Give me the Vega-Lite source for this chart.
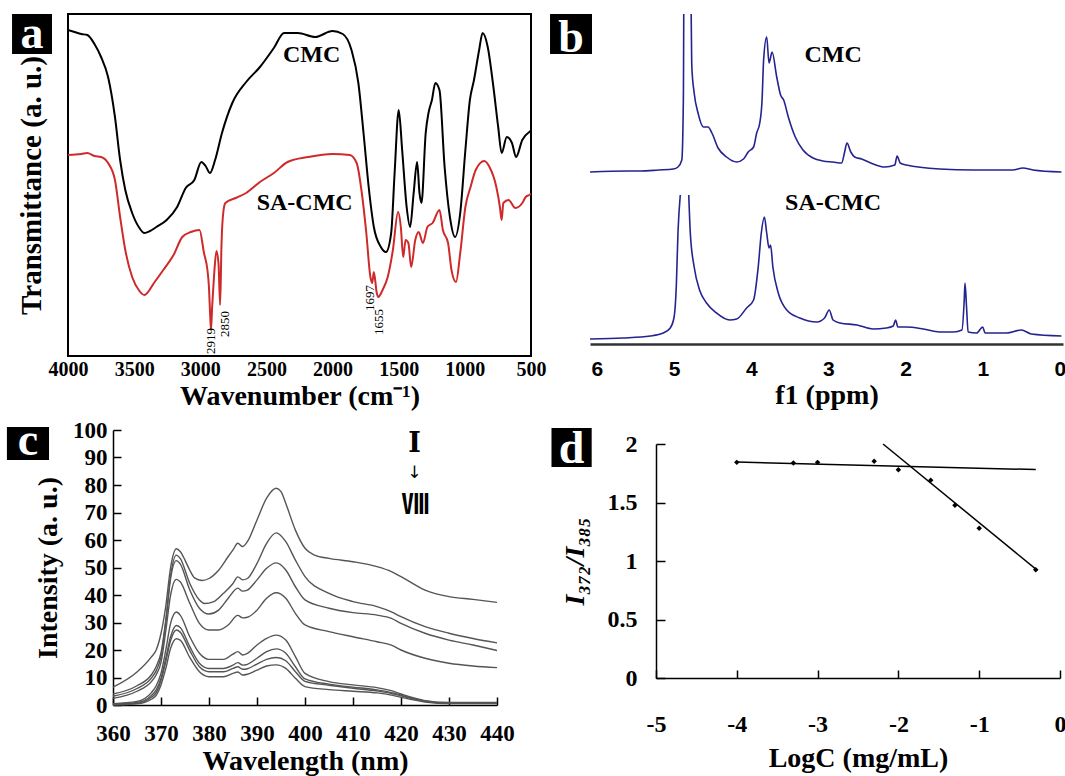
{
  "$schema": "https://vega.github.io/schema/vega-lite/v6.json",
  "autosize": {"type": "none"},
  "padding": {"left": 68, "top": 14, "right": 997, "bottom": 762},
  "background": "white",
  "bounds": "flush",
  "spacing": 416,
  "config": {
    "view": {"stroke": null},
    "axis": {"labelFont": "Liberation Serif", "titleFont": "Liberation Serif", "labelColor": "#000", "titleColor": "#000", "labelFontWeight": "bold", "titleFontWeight": "bold", "grid": false, "labelFlush": false, "labelOverlap": false, "labelBound": false, "domainColor": "#000", "tickColor": "#000"},
    "text": {"font": "Liberation Serif", "color": "#000"}
  },
  "datasets": {
    "ftir": [
      {"s":"CMC","w":4000,"t":326},{"s":"CMC","w":3950,"t":324},{"s":"CMC","w":3900,"t":322},{"s":"CMC","w":3854,"t":321},{"s":"CMC","w":3800,"t":312},{"s":"CMC","w":3750,"t":299},{"s":"CMC","w":3697,"t":279},{"s":"CMC","w":3645,"t":239},{"s":"CMC","w":3606,"t":196},{"s":"CMC","w":3567,"t":166},{"s":"CMC","w":3515,"t":143},{"s":"CMC","w":3460,"t":128},{"s":"CMC","w":3423,"t":123},{"s":"CMC","w":3380,"t":125},{"s":"CMC","w":3332,"t":129},{"s":"CMC","w":3254,"t":136},{"s":"CMC","w":3175,"t":149},{"s":"CMC","w":3110,"t":168},{"s":"CMC","w":3045,"t":176},{"s":"CMC","w":2992,"t":194},{"s":"CMC","w":2960,"t":190},{"s":"CMC","w":2927,"t":183},{"s":"CMC","w":2888,"t":196},{"s":"CMC","w":2836,"t":223},{"s":"CMC","w":2758,"t":253},{"s":"CMC","w":2653,"t":274},{"s":"CMC","w":2549,"t":289},{"s":"CMC","w":2444,"t":308},{"s":"CMC","w":2366,"t":323},{"s":"CMC","w":2262,"t":323},{"s":"CMC","w":2131,"t":319},{"s":"CMC","w":2001,"t":325},{"s":"CMC","w":1923,"t":322},{"s":"CMC","w":1857,"t":306},{"s":"CMC","w":1805,"t":273},{"s":"CMC","w":1766,"t":223},{"s":"CMC","w":1727,"t":169},{"s":"CMC","w":1688,"t":129},{"s":"CMC","w":1635,"t":109},{"s":"CMC","w":1596,"t":104},{"s":"CMC","w":1557,"t":123},{"s":"CMC","w":1531,"t":183},{"s":"CMC","w":1500,"t":246},{"s":"CMC","w":1474,"t":206},{"s":"CMC","w":1440,"t":149},{"s":"CMC","w":1414,"t":129},{"s":"CMC","w":1387,"t":163},{"s":"CMC","w":1361,"t":194},{"s":"CMC","w":1343,"t":163},{"s":"CMC","w":1328,"t":153},{"s":"CMC","w":1296,"t":223},{"s":"CMC","w":1275,"t":243},{"s":"CMC","w":1249,"t":256},{"s":"CMC","w":1223,"t":273},{"s":"CMC","w":1192,"t":266},{"s":"CMC","w":1153,"t":189},{"s":"CMC","w":1113,"t":139},{"s":"CMC","w":1074,"t":119},{"s":"CMC","w":1035,"t":143},{"s":"CMC","w":996,"t":206},{"s":"CMC","w":962,"t":256},{"s":"CMC","w":931,"t":276},{"s":"CMC","w":892,"t":306},{"s":"CMC","w":866,"t":323},{"s":"CMC","w":827,"t":309},{"s":"CMC","w":788,"t":273},{"s":"CMC","w":748,"t":229},{"s":"CMC","w":722,"t":203},{"s":"CMC","w":683,"t":219},{"s":"CMC","w":644,"t":213},{"s":"CMC","w":613,"t":199},{"s":"CMC","w":566,"t":216},{"s":"CMC","w":513,"t":224},{"s":"CMC","w":500,"t":225},
      {"s":"SA-CMC","w":4000,"t":201},{"s":"SA-CMC","w":3900,"t":202},{"s":"SA-CMC","w":3854,"t":203},{"s":"SA-CMC","w":3800,"t":200},{"s":"SA-CMC","w":3750,"t":199},{"s":"SA-CMC","w":3697,"t":193},{"s":"SA-CMC","w":3645,"t":176},{"s":"SA-CMC","w":3606,"t":139},{"s":"SA-CMC","w":3567,"t":106},{"s":"SA-CMC","w":3515,"t":79},{"s":"SA-CMC","w":3460,"t":65},{"s":"SA-CMC","w":3423,"t":61},{"s":"SA-CMC","w":3345,"t":74},{"s":"SA-CMC","w":3280,"t":86},{"s":"SA-CMC","w":3202,"t":101},{"s":"SA-CMC","w":3136,"t":119},{"s":"SA-CMC","w":3071,"t":124},{"s":"SA-CMC","w":3006,"t":126},{"s":"SA-CMC","w":2972,"t":103},{"s":"SA-CMC","w":2946,"t":86},{"s":"SA-CMC","w":2935,"t":70},{"s":"SA-CMC","w":2925,"t":40},{"s":"SA-CMC","w":2919,"t":26},{"s":"SA-CMC","w":2910,"t":50},{"s":"SA-CMC","w":2896,"t":80},{"s":"SA-CMC","w":2878,"t":105},{"s":"SA-CMC","w":2862,"t":92},{"s":"SA-CMC","w":2850,"t":51},{"s":"SA-CMC","w":2840,"t":110},{"s":"SA-CMC","w":2825,"t":145},{"s":"SA-CMC","w":2810,"t":153},{"s":"SA-CMC","w":2732,"t":158},{"s":"SA-CMC","w":2653,"t":163},{"s":"SA-CMC","w":2549,"t":174},{"s":"SA-CMC","w":2444,"t":183},{"s":"SA-CMC","w":2340,"t":194},{"s":"SA-CMC","w":2183,"t":199},{"s":"SA-CMC","w":2001,"t":202},{"s":"SA-CMC","w":1870,"t":201},{"s":"SA-CMC","w":1818,"t":193},{"s":"SA-CMC","w":1779,"t":163},{"s":"SA-CMC","w":1745,"t":123},{"s":"SA-CMC","w":1714,"t":79},{"s":"SA-CMC","w":1700,"t":73},{"s":"SA-CMC","w":1688,"t":84},{"s":"SA-CMC","w":1666,"t":63},{"s":"SA-CMC","w":1655,"t":59},{"s":"SA-CMC","w":1622,"t":66},{"s":"SA-CMC","w":1583,"t":79},{"s":"SA-CMC","w":1544,"t":106},{"s":"SA-CMC","w":1505,"t":144},{"s":"SA-CMC","w":1484,"t":129},{"s":"SA-CMC","w":1466,"t":99},{"s":"SA-CMC","w":1448,"t":116},{"s":"SA-CMC","w":1427,"t":113},{"s":"SA-CMC","w":1406,"t":89},{"s":"SA-CMC","w":1375,"t":116},{"s":"SA-CMC","w":1349,"t":124},{"s":"SA-CMC","w":1317,"t":113},{"s":"SA-CMC","w":1283,"t":129},{"s":"SA-CMC","w":1244,"t":133},{"s":"SA-CMC","w":1192,"t":146},{"s":"SA-CMC","w":1166,"t":126},{"s":"SA-CMC","w":1127,"t":113},{"s":"SA-CMC","w":1101,"t":86},{"s":"SA-CMC","w":1067,"t":74},{"s":"SA-CMC","w":1035,"t":103},{"s":"SA-CMC","w":996,"t":149},{"s":"SA-CMC","w":957,"t":169},{"s":"SA-CMC","w":918,"t":186},{"s":"SA-CMC","w":853,"t":195},{"s":"SA-CMC","w":814,"t":189},{"s":"SA-CMC","w":762,"t":169},{"s":"SA-CMC","w":735,"t":149},{"s":"SA-CMC","w":722,"t":136},{"s":"SA-CMC","w":709,"t":153},{"s":"SA-CMC","w":670,"t":156},{"s":"SA-CMC","w":618,"t":148},{"s":"SA-CMC","w":566,"t":153},{"s":"SA-CMC","w":540,"t":159},{"s":"SA-CMC","w":513,"t":161},{"s":"SA-CMC","w":500,"t":162}
    ],
    "nmr": [
      {"seg":"CMC","ppm":6.09,"v":172},{"seg":"CMC","ppm":5.6,"v":173},{"seg":"CMC","ppm":5.44,"v":173},{"seg":"CMC","ppm":5.2,"v":174},{"seg":"CMC","ppm":5.01,"v":175},{"seg":"CMC","ppm":4.95,"v":177},{"seg":"CMC","ppm":4.9,"v":184},{"seg":"CMC","ppm":4.88,"v":244},{"seg":"CMC","ppm":4.87,"v":400},{"seg":"CMC","ppm":4.79,"v":400},{"seg":"CMC","ppm":4.77,"v":277},{"seg":"CMC","ppm":4.74,"v":251},{"seg":"CMC","ppm":4.69,"v":231},{"seg":"CMC","ppm":4.62,"v":217},{"seg":"CMC","ppm":4.56,"v":217},{"seg":"CMC","ppm":4.51,"v":211},{"seg":"CMC","ppm":4.43,"v":196},{"seg":"CMC","ppm":4.32,"v":187},{"seg":"CMC","ppm":4.19,"v":182},{"seg":"CMC","ppm":4.1,"v":185},{"seg":"CMC","ppm":4.04,"v":192},{"seg":"CMC","ppm":3.97,"v":197},{"seg":"CMC","ppm":3.93,"v":211},{"seg":"CMC","ppm":3.89,"v":221},{"seg":"CMC","ppm":3.86,"v":244},{"seg":"CMC","ppm":3.84,"v":284},{"seg":"CMC","ppm":3.8,"v":307},{"seg":"CMC","ppm":3.77,"v":281},{"seg":"CMC","ppm":3.73,"v":292},{"seg":"CMC","ppm":3.67,"v":267},{"seg":"CMC","ppm":3.62,"v":249},{"seg":"CMC","ppm":3.58,"v":244},{"seg":"CMC","ppm":3.52,"v":227},{"seg":"CMC","ppm":3.43,"v":207},{"seg":"CMC","ppm":3.33,"v":194},{"seg":"CMC","ppm":3.2,"v":186},{"seg":"CMC","ppm":3.07,"v":183},{"seg":"CMC","ppm":2.94,"v":182},{"seg":"CMC","ppm":2.83,"v":181},{"seg":"CMC","ppm":2.79,"v":192},{"seg":"CMC","ppm":2.76,"v":201},{"seg":"CMC","ppm":2.71,"v":192},{"seg":"CMC","ppm":2.66,"v":187},{"seg":"CMC","ppm":2.57,"v":185},{"seg":"CMC","ppm":2.42,"v":180},{"seg":"CMC","ppm":2.27,"v":177},{"seg":"CMC","ppm":2.14,"v":179},{"seg":"CMC","ppm":2.11,"v":188},{"seg":"CMC","ppm":2.07,"v":181},{"seg":"CMC","ppm":1.99,"v":179},{"seg":"CMC","ppm":1.56,"v":175},{"seg":"CMC","ppm":1.12,"v":174},{"seg":"CMC","ppm":0.61,"v":174},{"seg":"CMC","ppm":0.48,"v":176},{"seg":"CMC","ppm":0.35,"v":174},{"seg":"CMC","ppm":-0.02,"v":172},
      {"seg":"SA1","ppm":6.09,"v":5},{"seg":"SA1","ppm":5.66,"v":6},{"seg":"SA1","ppm":5.31,"v":8},{"seg":"SA1","ppm":5.14,"v":11},{"seg":"SA1","ppm":5.05,"v":16},{"seg":"SA1","ppm":5.0,"v":27},{"seg":"SA1","ppm":4.97,"v":61},{"seg":"SA1","ppm":4.95,"v":111},{"seg":"SA1","ppm":4.92,"v":149},
      {"seg":"SA2","ppm":4.81,"v":149},{"seg":"SA2","ppm":4.79,"v":111},{"seg":"SA2","ppm":4.74,"v":77},{"seg":"SA2","ppm":4.67,"v":54},{"seg":"SA2","ppm":4.58,"v":41},{"seg":"SA2","ppm":4.45,"v":31},{"seg":"SA2","ppm":4.28,"v":24},{"seg":"SA2","ppm":4.19,"v":25},{"seg":"SA2","ppm":4.06,"v":36},{"seg":"SA2","ppm":3.97,"v":44},{"seg":"SA2","ppm":3.91,"v":77},{"seg":"SA2","ppm":3.87,"v":111},{"seg":"SA2","ppm":3.83,"v":127},{"seg":"SA2","ppm":3.8,"v":111},{"seg":"SA2","ppm":3.77,"v":96},{"seg":"SA2","ppm":3.75,"v":99},{"seg":"SA2","ppm":3.72,"v":77},{"seg":"SA2","ppm":3.65,"v":51},{"seg":"SA2","ppm":3.54,"v":34},{"seg":"SA2","ppm":3.37,"v":26},{"seg":"SA2","ppm":3.15,"v":22},{"seg":"SA2","ppm":3.05,"v":26},{"seg":"SA2","ppm":2.99,"v":34},{"seg":"SA2","ppm":2.94,"v":24},{"seg":"SA2","ppm":2.85,"v":21},{"seg":"SA2","ppm":2.63,"v":19},{"seg":"SA2","ppm":2.42,"v":15},{"seg":"SA2","ppm":2.25,"v":16},{"seg":"SA2","ppm":2.16,"v":18},{"seg":"SA2","ppm":2.13,"v":24},{"seg":"SA2","ppm":2.1,"v":17},{"seg":"SA2","ppm":1.99,"v":17},{"seg":"SA2","ppm":1.77,"v":15},{"seg":"SA2","ppm":1.56,"v":12},{"seg":"SA2","ppm":1.38,"v":12},{"seg":"SA2","ppm":1.27,"v":14},{"seg":"SA2","ppm":1.24,"v":44},{"seg":"SA2","ppm":1.23,"v":61},{"seg":"SA2","ppm":1.21,"v":37},{"seg":"SA2","ppm":1.19,"v":12},{"seg":"SA2","ppm":1.08,"v":11},{"seg":"SA2","ppm":1.0,"v":17},{"seg":"SA2","ppm":0.97,"v":11},{"seg":"SA2","ppm":0.69,"v":11},{"seg":"SA2","ppm":0.5,"v":14},{"seg":"SA2","ppm":0.37,"v":10},{"seg":"SA2","ppm":-0.02,"v":8}
    ],
    "fl": [
      {"s":"I","x":360,"y":6.5},{"s":"I","x":365,"y":12},{"s":"I","x":368,"y":17.5},{"s":"I","x":369,"y":20},{"s":"I","x":370,"y":26},{"s":"I","x":371,"y":36},{"s":"I","x":372,"y":50},{"s":"I","x":373.2,"y":56.8},{"s":"I","x":374,"y":55.8},{"s":"I","x":375,"y":52.7},{"s":"I","x":376,"y":49},{"s":"I","x":377,"y":46.2},{"s":"I","x":378.5,"y":45.3},{"s":"I","x":380,"y":46},{"s":"I","x":382,"y":49},{"s":"I","x":384,"y":54},{"s":"I","x":385,"y":56.4},{"s":"I","x":386,"y":58.8},{"s":"I","x":387,"y":57.6},{"s":"I","x":388,"y":59.4},{"s":"I","x":390,"y":67.3},{"s":"I","x":392,"y":75.2},{"s":"I","x":394,"y":78.8},{"s":"I","x":395,"y":77.6},{"s":"I","x":396,"y":73.3},{"s":"I","x":398,"y":63.6},{"s":"I","x":400,"y":57},{"s":"I","x":402,"y":54.5},{"s":"I","x":405,"y":53.3},{"s":"I","x":410,"y":52.1},{"s":"I","x":415,"y":50.3},{"s":"I","x":418,"y":48.5},{"s":"I","x":420,"y":46.7},{"s":"I","x":425,"y":41.8},{"s":"I","x":430,"y":39.4},{"s":"I","x":435,"y":38.4},{"s":"I","x":440,"y":37.3},
      {"s":"II","x":360,"y":4},{"s":"II","x":365,"y":7},{"s":"II","x":368,"y":11},{"s":"II","x":369,"y":14},{"s":"II","x":370,"y":19},{"s":"II","x":371,"y":31},{"s":"II","x":372,"y":47},{"s":"II","x":373.2,"y":54.5},{"s":"II","x":374,"y":53.3},{"s":"II","x":376,"y":44.2},{"s":"II","x":378,"y":38.2},{"s":"II","x":379,"y":36.9},{"s":"II","x":381,"y":37.6},{"s":"II","x":383,"y":40.6},{"s":"II","x":385,"y":44.2},{"s":"II","x":386,"y":46.6},{"s":"II","x":387,"y":45.5},{"s":"II","x":388,"y":46},{"s":"II","x":390,"y":51.5},{"s":"II","x":392,"y":58.8},{"s":"II","x":394,"y":62.6},{"s":"II","x":396,"y":59.4},{"s":"II","x":398,"y":52.7},{"s":"II","x":400,"y":46.7},{"s":"II","x":405,"y":40.6},{"s":"II","x":410,"y":37.6},{"s":"II","x":415,"y":35.8},{"s":"II","x":418,"y":33.9},{"s":"II","x":420,"y":32.1},{"s":"II","x":425,"y":28.5},{"s":"II","x":430,"y":26.1},{"s":"II","x":435,"y":24.2},{"s":"II","x":440,"y":22.6},
      {"s":"III","x":360,"y":3.2},{"s":"III","x":365,"y":6},{"s":"III","x":368,"y":9.8},{"s":"III","x":369,"y":12.5},{"s":"III","x":370,"y":17.5},{"s":"III","x":371,"y":30},{"s":"III","x":372,"y":46},{"s":"III","x":373.2,"y":52.5},{"s":"III","x":374,"y":51.3},{"s":"III","x":376,"y":41.8},{"s":"III","x":378,"y":35.2},{"s":"III","x":380,"y":33.1},{"s":"III","x":382,"y":34.5},{"s":"III","x":384,"y":38.8},{"s":"III","x":386,"y":42.5},{"s":"III","x":387,"y":41.4},{"s":"III","x":388,"y":41.8},{"s":"III","x":390,"y":45.5},{"s":"III","x":392,"y":49.7},{"s":"III","x":394,"y":51.7},{"s":"III","x":396,"y":49.1},{"s":"III","x":398,"y":43},{"s":"III","x":400,"y":38.2},{"s":"III","x":405,"y":35.2},{"s":"III","x":410,"y":33.6},{"s":"III","x":415,"y":32.7},{"s":"III","x":418,"y":31.5},{"s":"III","x":420,"y":29.7},{"s":"III","x":425,"y":26.1},{"s":"III","x":430,"y":23.6},{"s":"III","x":435,"y":21.8},{"s":"III","x":440,"y":19.8},
      {"s":"IV","x":360,"y":2.4},{"s":"IV","x":365,"y":5},{"s":"IV","x":368,"y":8.5},{"s":"IV","x":369,"y":11},{"s":"IV","x":370,"y":15.5},{"s":"IV","x":371,"y":27},{"s":"IV","x":372,"y":40},{"s":"IV","x":373.2,"y":45.7},{"s":"IV","x":374,"y":44.8},{"s":"IV","x":376,"y":37},{"s":"IV","x":378,"y":29.7},{"s":"IV","x":380,"y":27.3},{"s":"IV","x":382,"y":27.3},{"s":"IV","x":384,"y":29.1},{"s":"IV","x":386,"y":32.6},{"s":"IV","x":387,"y":31.7},{"s":"IV","x":388,"y":31.9},{"s":"IV","x":390,"y":34.5},{"s":"IV","x":392,"y":38.8},{"s":"IV","x":394,"y":40.8},{"s":"IV","x":396,"y":38.8},{"s":"IV","x":398,"y":33.3},{"s":"IV","x":400,"y":29.1},{"s":"IV","x":405,"y":26.7},{"s":"IV","x":410,"y":24.8},{"s":"IV","x":415,"y":23},{"s":"IV","x":418,"y":21.8},{"s":"IV","x":420,"y":20},{"s":"IV","x":425,"y":17},{"s":"IV","x":430,"y":15.2},{"s":"IV","x":435,"y":14.2},{"s":"IV","x":440,"y":13.6},
      {"s":"V","x":360,"y":0.5},{"s":"V","x":365,"y":1.3},{"s":"V","x":368,"y":4.5},{"s":"V","x":369,"y":7},{"s":"V","x":370,"y":11.5},{"s":"V","x":371,"y":20},{"s":"V","x":372,"y":29.7},{"s":"V","x":373.2,"y":33.8},{"s":"V","x":374,"y":32.7},{"s":"V","x":376,"y":24.8},{"s":"V","x":378,"y":18.8},{"s":"V","x":380,"y":16.6},{"s":"V","x":383,"y":16.6},{"s":"V","x":385,"y":18.5},{"s":"V","x":386,"y":19.4},{"s":"V","x":387,"y":18.2},{"s":"V","x":388,"y":18.8},{"s":"V","x":390,"y":21.8},{"s":"V","x":392,"y":24.2},{"s":"V","x":394,"y":25.4},{"s":"V","x":396,"y":23.6},{"s":"V","x":398,"y":17.6},{"s":"V","x":400,"y":11.5},{"s":"V","x":405,"y":8.5},{"s":"V","x":410,"y":7.3},{"s":"V","x":415,"y":6.3},{"s":"V","x":418,"y":5.2},{"s":"V","x":420,"y":4},{"s":"V","x":425,"y":1.6},{"s":"V","x":430,"y":0.9},{"s":"V","x":440,"y":0.9},
      {"s":"VI","x":360,"y":0.3},{"s":"VI","x":365,"y":0.9},{"s":"VI","x":368,"y":3.5},{"s":"VI","x":369,"y":5.5},{"s":"VI","x":370,"y":9.7},{"s":"VI","x":371,"y":17},{"s":"VI","x":372,"y":24.8},{"s":"VI","x":373.2,"y":28.9},{"s":"VI","x":374,"y":28.2},{"s":"VI","x":376,"y":21.2},{"s":"VI","x":378,"y":15.2},{"s":"VI","x":380,"y":13.3},{"s":"VI","x":383,"y":13.3},{"s":"VI","x":385,"y":14.5},{"s":"VI","x":386,"y":15.4},{"s":"VI","x":387,"y":14.5},{"s":"VI","x":388,"y":14.8},{"s":"VI","x":390,"y":17},{"s":"VI","x":392,"y":19.4},{"s":"VI","x":394,"y":20.4},{"s":"VI","x":396,"y":18.8},{"s":"VI","x":398,"y":13.9},{"s":"VI","x":400,"y":9.5},{"s":"VI","x":405,"y":7.6},{"s":"VI","x":410,"y":6.5},{"s":"VI","x":415,"y":5.5},{"s":"VI","x":418,"y":4.5},{"s":"VI","x":420,"y":3.6},{"s":"VI","x":425,"y":1.5},{"s":"VI","x":430,"y":0.8},{"s":"VI","x":440,"y":0.8},
      {"s":"VII","x":360,"y":0.15},{"s":"VII","x":365,"y":0.6},{"s":"VII","x":368,"y":2.8},{"s":"VII","x":369,"y":4.5},{"s":"VII","x":370,"y":8.8},{"s":"VII","x":371,"y":15.8},{"s":"VII","x":372,"y":23.4},{"s":"VII","x":373.2,"y":27.3},{"s":"VII","x":374,"y":26.5},{"s":"VII","x":376,"y":19.8},{"s":"VII","x":378,"y":13.9},{"s":"VII","x":380,"y":12.1},{"s":"VII","x":383,"y":12.1},{"s":"VII","x":385,"y":13.3},{"s":"VII","x":386,"y":13.9},{"s":"VII","x":387,"y":13},{"s":"VII","x":388,"y":13.2},{"s":"VII","x":390,"y":14.9},{"s":"VII","x":392,"y":16.6},{"s":"VII","x":394,"y":17.3},{"s":"VII","x":396,"y":16.1},{"s":"VII","x":398,"y":12.1},{"s":"VII","x":400,"y":8.6},{"s":"VII","x":405,"y":7.2},{"s":"VII","x":410,"y":6.1},{"s":"VII","x":415,"y":5.1},{"s":"VII","x":418,"y":4.2},{"s":"VII","x":420,"y":3.3},{"s":"VII","x":425,"y":1.3},{"s":"VII","x":430,"y":0.7},{"s":"VII","x":440,"y":0.7},
      {"s":"VIII","x":360,"y":0},{"s":"VIII","x":365,"y":0.4},{"s":"VIII","x":368,"y":2.1},{"s":"VIII","x":369,"y":3.5},{"s":"VIII","x":370,"y":7.3},{"s":"VIII","x":371,"y":13.3},{"s":"VIII","x":372,"y":20.6},{"s":"VIII","x":373.2,"y":24.1},{"s":"VIII","x":374,"y":23.6},{"s":"VIII","x":376,"y":17.3},{"s":"VIII","x":378,"y":12.1},{"s":"VIII","x":380,"y":10.3},{"s":"VIII","x":383,"y":10.3},{"s":"VIII","x":385,"y":11.5},{"s":"VIII","x":386,"y":12},{"s":"VIII","x":387,"y":10.9},{"s":"VIII","x":388,"y":11.2},{"s":"VIII","x":390,"y":12.7},{"s":"VIII","x":392,"y":14.2},{"s":"VIII","x":394,"y":14.6},{"s":"VIII","x":396,"y":13.3},{"s":"VIII","x":398,"y":9.7},{"s":"VIII","x":400,"y":6.7},{"s":"VIII","x":405,"y":5.6},{"s":"VIII","x":410,"y":5},{"s":"VIII","x":415,"y":4.4},{"s":"VIII","x":418,"y":3.6},{"s":"VIII","x":420,"y":2.8},{"s":"VIII","x":425,"y":1.1},{"s":"VIII","x":430,"y":0.5},{"s":"VIII","x":440,"y":0.5}
    ],
    "pyr": [
      {"lc":-4,"r":1.843},{"lc":-3.3,"r":1.838},{"lc":-3,"r":1.843},{"lc":-2.3,"r":1.852},{"lc":-2,"r":1.78},{"lc":-1.6,"r":1.69},{"lc":-1.3,"r":1.476},{"lc":-1,"r":1.28},{"lc":-0.3,"r":0.926}
    ],
    "pyrfit": [
      {"fit":"flat","lc":-4,"r":1.846},{"fit":"flat","lc":-0.3,"r":1.781},
      {"fit":"steep","lc":-2.19,"r":2.0},{"fit":"steep","lc":-0.28,"r":0.92}
    ]
  },
  "vconcat": [
    {
      "hconcat": [
        {
          "width": 463, "height": 342,
          "view": {"stroke": "#000", "strokeWidth": 2},
          "layer": [
            {
              "data": {"name": "ftir"},
              "mark": {"type": "line", "interpolate": "monotone", "strokeWidth": 2},
              "encoding": {
                "x": {"field": "w", "type": "quantitative", "scale": {"domain": [500, 4000], "reverse": true, "nice": false, "zero": false},
                  "axis": {"values": [4000, 3500, 3000, 2500, 2000, 1500, 1000, 500], "tickCount": 12, "format": "d", "domain": false, "ticks": false, "labelFontSize": 20, "labelPadding": 3, "title": "Wavenumber (cm⁻¹)", "titleFontSize": 28, "titlePadding": 3}},
                "y": {"field": "t", "type": "quantitative", "scale": {"domain": [0, 342], "nice": false, "zero": false},
                  "axis": {"domain": false, "ticks": false, "labels": false, "title": "Transmittance (a. u.)", "titleFontSize": 29, "titlePadding": 22}},
                "color": {"field": "s", "type": "nominal", "scale": {"domain": ["CMC", "SA-CMC"], "range": ["#000000", "#cf2a2a"]}, "legend": null}
              }
            },
            {
              "data": {"values": [{"w": 2158, "t": 301, "label": "CMC"}, {"w": 2211, "t": 153, "label": "SA-CMC"}]},
              "mark": {"type": "text", "fontWeight": "bold", "fontSize": 24, "baseline": "middle", "align": "center"},
              "encoding": {"x": {"field": "w", "type": "quantitative"}, "y": {"field": "t", "type": "quantitative"}, "text": {"field": "label"}}
            },
            {
              "data": {"values": [{"w": 2919, "t": 15, "label": "2919"}, {"w": 2815, "t": 32, "label": "2850"}, {"w": 1714, "t": 58, "label": "1697"}, {"w": 1649, "t": 34, "label": "1655"}]},
              "mark": {"type": "text", "fontSize": 13, "angle": 270, "baseline": "middle", "align": "center"},
              "encoding": {"x": {"field": "w", "type": "quantitative"}, "y": {"field": "t", "type": "quantitative"}, "text": {"field": "label"}}
            },
            {
              "data": {"values": [{"w": 4423, "w2": 4121, "t": 342, "t2": 302}]},
              "mark": {"type": "rect", "color": "#000"},
              "encoding": {"x": {"field": "w", "type": "quantitative"}, "x2": {"field": "w2"}, "y": {"field": "t", "type": "quantitative"}, "y2": {"field": "t2"}}
            },
            {
              "data": {"values": [{"w": 4272, "t": 308, "label": "a"}]},
              "mark": {"type": "text", "color": "#fff", "fontWeight": "bold", "fontSize": 46, "baseline": "alphabetic", "align": "center"},
              "encoding": {"x": {"field": "w", "type": "quantitative"}, "y": {"field": "t", "type": "quantitative"}, "text": {"field": "label"}}
            }
          ]
        },
        {
          "width": 473, "height": 330,
          "layer": [
            {
              "data": {"name": "nmr"},
              "mark": {"type": "line", "interpolate": "monotone", "strokeWidth": 1.6, "color": "#25238f", "clip": true},
              "encoding": {
                "x": {"field": "ppm", "type": "quantitative", "scale": {"domain": [-0.04, 6.09], "reverse": true, "nice": false, "zero": false},
                  "axis": {"values": [0, 1, 2, 3, 4, 5, 6], "tickCount": 12, "format": "d", "domainColor": "#333", "domainWidth": 2.5, "ticks": false, "labelFont": "Liberation Sans", "labelFontSize": 21, "labelPadding": 14, "title": "f1 (ppm)", "titleFontSize": 28, "titlePadding": 2}},
                "y": {"field": "v", "type": "quantitative", "scale": {"domain": [0, 330], "nice": false, "zero": false}, "axis": null},
                "detail": {"field": "seg"}
              }
            },
            {
              "data": {"values": [{"ppm": 2.94, "v": 289, "label": "CMC"}, {"ppm": 2.94, "v": 141, "label": "SA-CMC"}]},
              "mark": {"type": "text", "fontWeight": "bold", "fontSize": 24, "baseline": "middle", "align": "center"},
              "encoding": {"x": {"field": "ppm", "type": "quantitative"}, "y": {"field": "v", "type": "quantitative"}, "text": {"field": "label"}}
            },
            {
              "data": {"values": [{"ppm": 6.608, "p2": 6.064, "v": 330, "v2": 290}]},
              "mark": {"type": "rect", "color": "#000"},
              "encoding": {"x": {"field": "ppm", "type": "quantitative"}, "x2": {"field": "p2"}, "y": {"field": "v", "type": "quantitative"}, "y2": {"field": "v2"}}
            },
            {
              "data": {"values": [{"ppm": 6.336, "v": 292, "label": "b"}]},
              "mark": {"type": "text", "color": "#fff", "fontWeight": "bold", "fontSize": 46, "baseline": "alphabetic", "align": "center"},
              "encoding": {"x": {"field": "ppm", "type": "quantitative"}, "y": {"field": "v", "type": "quantitative"}, "text": {"field": "label"}}
            }
          ]
        }
      ],
      "spacing": 59,
      "bounds": "flush"
    },
    {
      "hconcat": [
        {"width": 40, "height": 2, "data": {"values": [{}]}, "mark": {"type": "point", "opacity": 0}, "encoding": {}},
        {
          "width": 384, "height": 275,
          "layer": [
            {
              "data": {"name": "fl"},
              "mark": {"type": "line", "interpolate": "monotone", "strokeWidth": 1.4, "color": "#555555"},
              "encoding": {
                "x": {"field": "x", "type": "quantitative", "scale": {"domain": [360, 440], "nice": false, "zero": false},
                  "axis": {"values": [360, 370, 380, 390, 400, 410, 420, 430, 440], "tickCount": 12, "tickSize": -8, "tickWidth": 1.5, "domainWidth": 1.5, "labelFontSize": 23, "labelPadding": 25, "title": "Wavelength (nm)", "titleFontSize": 28, "titlePadding": 2}},
                "y": {"field": "y", "type": "quantitative", "scale": {"domain": [0, 100], "nice": false, "zero": false},
                  "axis": {"values": [0, 10, 20, 30, 40, 50, 60, 70, 80, 90, 100], "tickCount": 12, "tickSize": -8, "tickWidth": 1.5, "domainWidth": 1.5, "labelFontSize": 23, "labelPadding": 14, "title": "Intensity (a. u.)", "titleFontSize": 28, "titlePadding": 10}},
                "detail": {"field": "s"}
              }
            },
            {
              "data": {"values": [{"x": 422.8, "y": 95, "label": "Ⅰ"}]},
              "mark": {"type": "text", "font": "DejaVu Serif", "fontWeight": "bold", "fontSize": 27, "baseline": "middle", "align": "center"},
              "encoding": {"x": {"field": "x", "type": "quantitative"}, "y": {"field": "y", "type": "quantitative"}, "text": {"field": "label"}}
            },
            {
              "data": {"values": [{"x": 423, "y": 72.5, "label": "Ⅷ"}]},
              "mark": {"type": "text", "font": "Noto Sans CJK SC", "fontWeight": "bold", "fontSize": 28, "baseline": "middle", "align": "center"},
              "encoding": {"x": {"field": "x", "type": "quantitative"}, "y": {"field": "y", "type": "quantitative"}, "text": {"field": "label"}}
            },
            {
              "data": {"values": [{"x": 422.8, "y": 84.5, "label": "↓"}]},
              "mark": {"type": "text", "font": "DejaVu Sans", "fontSize": 17, "baseline": "middle", "align": "center"},
              "encoding": {"x": {"field": "x", "type": "quantitative"}, "y": {"field": "y", "type": "quantitative"}, "text": {"field": "label"}}
            },
            {
              "data": {"values": [{"x": 337.9, "x2": 346.67, "y": 101.1, "y2": 89.1}]},
              "mark": {"type": "rect", "color": "#000"},
              "encoding": {"x": {"field": "x", "type": "quantitative"}, "x2": {"field": "x2"}, "y": {"field": "y", "type": "quantitative"}, "y2": {"field": "y2"}}
            },
            {
              "data": {"values": [{"x": 342.3, "y": 90.9, "label": "c"}]},
              "mark": {"type": "text", "color": "#fff", "fontWeight": "bold", "fontSize": 46, "baseline": "alphabetic", "align": "center"},
              "encoding": {"x": {"field": "x", "type": "quantitative"}, "y": {"field": "y", "type": "quantitative"}, "text": {"field": "label"}}
            }
          ]
        },
        {"width": 149, "height": 2, "data": {"values": [{}]}, "mark": {"type": "point", "opacity": 0}, "encoding": {}},
        {
          "vconcat": [
            {"width": 404, "height": 4, "data": {"values": [{}]}, "mark": {"type": "point", "opacity": 0}, "encoding": {}},
            {
              "width": 404, "height": 234,
              "layer": [
                {
                  "data": {"name": "pyrfit"},
                  "mark": {"type": "line", "strokeWidth": 1.5, "color": "#000"},
                  "encoding": {
                    "x": {"field": "lc", "type": "quantitative", "scale": {"domain": [-5, 0], "nice": false, "zero": false},
                      "axis": {"values": [-5, -4, -3, -2, -1, 0], "tickCount": 12, "labelExpr": "'' + datum.value", "tickSize": -8, "tickWidth": 1.5, "domainWidth": 1.5, "labelFontSize": 24, "labelPadding": 42, "title": "LogC (mg/mL)", "titleFontSize": 28, "titlePadding": 8}},
                    "y": {"field": "r", "type": "quantitative", "scale": {"domain": [0, 2], "nice": false, "zero": false},
                      "axis": {"values": [0, 0.5, 1, 1.5, 2], "tickCount": 12, "labelExpr": "'' + datum.value", "tickSize": -9, "tickWidth": 1.5, "domainWidth": 1.5, "labelFontSize": 24, "labelPadding": 28, "title": "I₃₇₂/I₃₈₅", "titleFontSize": 28, "titleFontStyle": "italic", "titlePadding": 18}},
                    "detail": {"field": "fit"}
                  }
                },
                {
                  "data": {"name": "pyr"},
                  "mark": {"type": "point", "shape": "diamond", "filled": true, "size": 30, "color": "#000", "opacity": 1},
                  "encoding": {"x": {"field": "lc", "type": "quantitative"}, "y": {"field": "r", "type": "quantitative"}}
                },
                {
                  "data": {"values": [{"lc": -6.2935, "l2": -5.796, "r": 2.137, "r2": 1.803}]},
                  "mark": {"type": "rect", "color": "#000"},
                  "encoding": {"x": {"field": "lc", "type": "quantitative"}, "x2": {"field": "l2"}, "y": {"field": "r", "type": "quantitative"}, "y2": {"field": "r2"}}
                },
                {
                  "data": {"values": [{"lc": -6.045, "r": 1.838, "label": "d"}]},
                  "mark": {"type": "text", "color": "#fff", "fontWeight": "bold", "fontSize": 46, "baseline": "alphabetic", "align": "center"},
                  "encoding": {"x": {"field": "lc", "type": "quantitative"}, "y": {"field": "r", "type": "quantitative"}, "text": {"field": "label"}}
                }
              ]
            }
          ],
          "spacing": 10,
          "bounds": "flush"
        }
      ],
      "spacing": 5,
      "bounds": "flush"
    }
  ]
}
